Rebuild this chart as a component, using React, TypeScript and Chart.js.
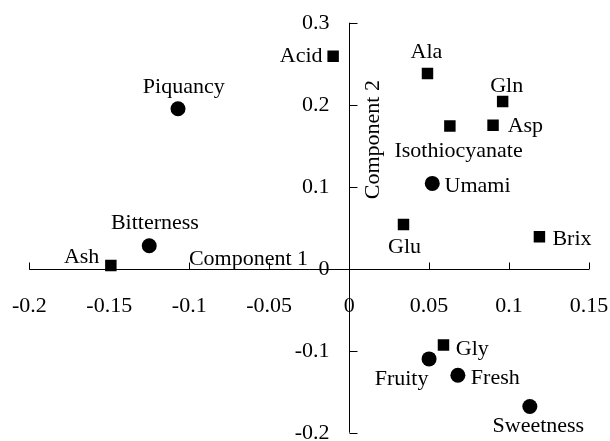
import React, { useEffect, useRef } from "react";
import { Chart, registerables } from "chart.js";

Chart.register(...registerables);

// ---- data ----
const squareNames = ["Acid", "Ala", "Gln", "Isothiocyanate", "Asp", "Glu", "Brix", "Ash", "Gly"];
const squareX = [-0.010, 0.049, 0.096, 0.063, 0.090, 0.034, 0.119, -0.149, 0.059];
const squareY = [0.259, 0.238, 0.204, 0.174, 0.175, 0.054, 0.039, 0.004, -0.093];

const circleNames = ["Piquancy", "Bitterness", "Umami", "Fruity", "Fresh", "Sweetness"];
const circleX = [-0.107, -0.125, 0.052, 0.050, 0.068, 0.113];
const circleY = [0.195, 0.028, 0.104, -0.110, -0.130, -0.168];

const xTicks = [-0.2, -0.15, -0.1, -0.05, 0, 0.05, 0.1, 0.15];
const xTickLabels = ["-0.2", "-0.15", "-0.1", "-0.05", "0", "0.05", "0.1", "0.15"];
const yTicks = [-0.2, -0.1, 0, 0.1, 0.2, 0.3];
const yTickLabels = ["-0.2", "-0.1", "0", "0.1", "0.2", "0.3"];

const xTitle = "Component 1";
const yTitle = "Component 2";

// ---- label placement (align, dx, dy relative to marker centre, dy to baseline) ----
const labelPlacement: Record<string, [CanvasTextAlign, number, number]> = {
  Ash: ["right", -11.5, -2.7],
  Bitterness: ["center", 5.7, -16.7],
  Piquancy: ["center", 5.7, -16],
  Acid: ["right", -10.6, 5.7],
  Ala: ["center", -1, -16],
  Gln: ["center", 4, -9],
  Asp: ["left", 14.6, 6.7],
  Isothiocyanate: ["center", 8.7, 30.7],
  Umami: ["left", 12.3, 8.3],
  Glu: ["center", 1, 29],
  Brix: ["left", 13, 8.3],
  Gly: ["left", 12.3, 10],
  Fruity: ["right", -0.6, 26],
  Fresh: ["left", 13, 9],
  Sweetness: ["center", 8.5, 25.7],
};

const FONT = '22px "Liberation Serif", "Times New Roman", serif';

const axesPlugin = {
  id: "centredAxes",
  beforeDatasetsDraw(chart: any) {
    const { ctx, chartArea, scales } = chart;
    const xs = scales.x;
    const ys = scales.y;
    const x0 = Math.round(xs.getPixelForValue(0)) + 0.5;
    const y0 = Math.round(ys.getPixelForValue(0)) + 0.5;
    ctx.save();
    ctx.strokeStyle = "#000";
    ctx.lineWidth = 1;
    ctx.beginPath();
    ctx.moveTo(chartArea.left, y0);
    ctx.lineTo(chartArea.right, y0);
    ctx.moveTo(x0, chartArea.top);
    ctx.lineTo(x0, chartArea.bottom);
    xTicks.forEach((v) => {
      const px = Math.round(xs.getPixelForValue(v)) + 0.5;
      ctx.moveTo(px, y0);
      ctx.lineTo(px, y0 - 7);
    });
    yTicks.forEach((v) => {
      const py = Math.round(ys.getPixelForValue(v)) + 0.5;
      ctx.moveTo(x0, py);
      ctx.lineTo(x0 + 8, py);
    });
    ctx.stroke();

    ctx.fillStyle = "#000";
    ctx.font = FONT;
    ctx.textBaseline = "middle";
    ctx.textAlign = "center";
    xTicks.forEach((v, i) => {
      ctx.fillText(xTickLabels[i], xs.getPixelForValue(v), y0 + 36.5);
    });
    ctx.textAlign = "right";
    yTicks.forEach((v, i) => {
      ctx.fillText(yTickLabels[i], x0 - 20, ys.getPixelForValue(v) + 1);
    });

    // axis titles
    ctx.textBaseline = "alphabetic";
    ctx.textAlign = "center";
    ctx.fillText(xTitle, x0 - 101, y0 - 5);
    ctx.save();
    ctx.translate(x0 + 29, ys.getPixelForValue(0.2) + 35);
    ctx.rotate(-Math.PI / 2);
    ctx.fillText(yTitle, 0, 0);
    ctx.restore();
    ctx.restore();
  },
  afterDatasetsDraw(chart: any) {
    const { ctx, scales } = chart;
    const xs = scales.x;
    const ys = scales.y;
    ctx.save();
    ctx.fillStyle = "#000";
    ctx.font = FONT;
    ctx.textBaseline = "alphabetic";
    const drawSet = (names: string[], xv: number[], yv: number[]) => {
      names.forEach((n, i) => {
        const p = labelPlacement[n] || ["left", 10, 6];
        ctx.textAlign = p[0];
        ctx.fillText(n, xs.getPixelForValue(xv[i]) + p[1], ys.getPixelForValue(yv[i]) + p[2]);
      });
    };
    drawSet(squareNames, squareX, squareY);
    drawSet(circleNames, circleX, circleY);
    ctx.restore();
  },
};

export default function App() {
  const ref = useRef<HTMLCanvasElement | null>(null);
  useEffect(() => {
    if (!ref.current) return;
    const chart = new Chart(ref.current, {
      type: "scatter",
      data: {
        datasets: [
          {
            label: "Chemical",
            data: squareX.map((x, i) => ({ x, y: squareY[i] })),
            pointStyle: "rect",
            pointRadius: 8.1,
            pointBackgroundColor: "#000",
            pointBorderWidth: 0,
          },
          {
            label: "Sensory",
            data: circleX.map((x, i) => ({ x, y: circleY[i] })),
            pointStyle: "circle",
            pointRadius: 7.5,
            pointBackgroundColor: "#000",
            pointBorderWidth: 0,
          },
        ],
      },
      options: {
        responsive: false,
        animation: false,
        layout: { padding: { left: 29.3, right: 21, top: 22.7, bottom: 8.3 } },
        scales: {
          x: { type: "linear", min: -0.2, max: 0.15, display: false },
          y: { type: "linear", min: -0.2, max: 0.3, display: false },
        },
        plugins: { legend: { display: false }, tooltip: { enabled: false } },
      },
      plugins: [axesPlugin],
    });
    return () => chart.destroy();
  }, []);
  return (
    <div style={{ position: "absolute", left: 0, top: 0, width: 610, height: 441, background: "#fff" }}>
      <canvas ref={ref} width={610} height={441} style={{ display: "block" }} />
    </div>
  );
}
